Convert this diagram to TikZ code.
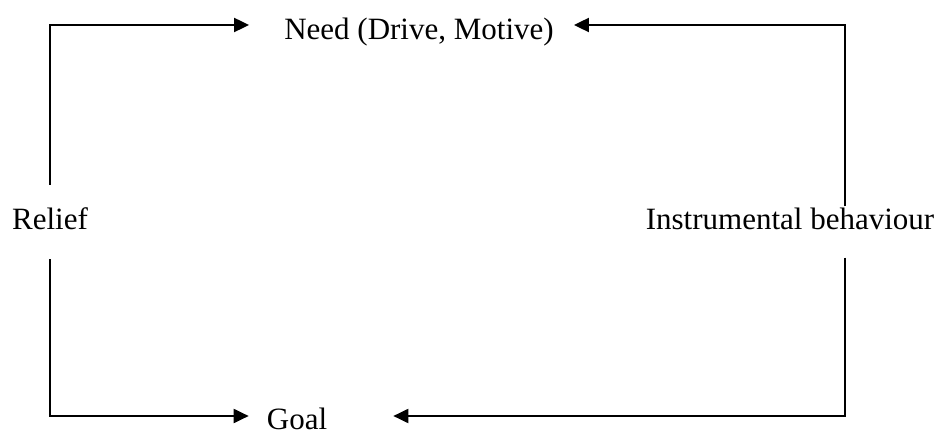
\documentclass[tikz,border=0pt]{standalone}
\usepackage{fontspec}
\setmainfont{Liberation Serif}
\usetikzlibrary{arrows.meta}

\begin{document}
\begin{tikzpicture}[x=1pt,y=-1pt,
    stage/.style={inner sep=0pt,text height=21pt,text depth=0pt,font=\fontsize{31}{37}\selectfont},
    arrowline/.style={line width=2pt,-{Triangle[length=15pt,width=14pt]}}]
    \useasboundingbox (0,0) rectangle (944,435);
    % the four stages of the cycle
    \node[stage] (need) at (419,29) {Need (Drive, Motive)};
    \node[stage] (relief) at (50,219.5) {Relief};
    \node[stage] (instr) at (790,219) {Instrumental behaviour};
    \node[stage] (goal) at (297,419) {Goal};
    % connectors
    \draw[arrowline] ([yshift=24pt]relief.north) |- ([xshift=-35pt,yshift=4pt]need.west);
    \draw[arrowline] ([xshift=55pt,yshift=2pt]instr.north) |- ([xshift=20pt,yshift=4pt]need.east);
    \draw[arrowline] ([yshift=-29pt]relief.south) |- ([xshift=-18pt,yshift=3pt]goal.west);
    \draw[arrowline] ([xshift=55pt,yshift=-28pt]instr.south) |- ([xshift=66pt,yshift=3pt]goal.east);
\end{tikzpicture}
\end{document}
